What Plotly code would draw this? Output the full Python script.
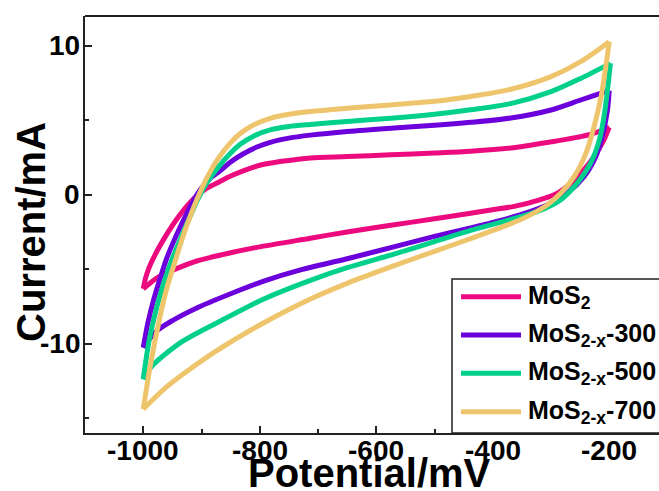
import plotly.graph_objects as go

# ---------------- data ----------------
SERIES_NAMES = ["MoS<sub>2</sub>", "MoS<sub>2-x</sub>-300",
                "MoS<sub>2-x</sub>-500", "MoS<sub>2-x</sub>-700"]
COLORS = ["#EC0A7E", "#6B00DC", "#00D08C", "#EEC56C"]

# each loop: start at -1000 mV, anodic sweep up to -200 mV, cathodic sweep back
MOS2_V = [-1000, -996, -990, -980, -965, -948, -930, -910, -890, -870,
          -850, -825, -800, -770, -740, -713, -650, -575, -500, -438, -369,
          -300, -249, -220, -200,
          -203, -209, -226, -254, -289, -318, -363, -403, -438, -500, -575,
          -650, -713, -800, -850, -908, -948, -975, -1000]
MOS2_I = [-6.32, -5.6, -4.9, -4.05, -3.0, -1.95, -1.0, -0.15, 0.45, 0.85,
          1.25, 1.65, 1.98, 2.2, 2.35, 2.46, 2.56, 2.68, 2.8, 2.92, 3.14,
          3.55, 3.9, 4.2, 4.53,
          4.25, 3.68, 2.57, 1.23, 0.11, -0.33, -0.78, -1.02, -1.25, -1.62, -2.05,
          -2.5, -2.92, -3.5, -3.9, -4.45, -5.05, -5.55, -6.32]

MOS2X300_V = [-1000, -992, -982, -970, -959, -936, -913, -900, -885, -868,
              -850, -828, -805, -782, -750, -713, -650, -575, -500, -438,
              -369, -300, -249, -215, -200,
              -203, -212, -223, -243, -272, -306, -352, -403, -438, -500,
              -575, -650, -730, -793, -850, -908, -950, -977, -1000]
MOS2X300_I = [-10.27, -8.6, -7.03, -5.5, -4.2, -2.12, -0.33, 0.45, 1.1, 1.6,
              2.2, 2.75, 3.2, 3.52, 3.8, 4.0, 4.25, 4.47, 4.66, 4.86,
              5.15, 5.69, 6.36, 6.8, 6.99,
              5.69, 3.9, 2.57, 1.23, 0.11, -0.67, -1.34, -1.9, -2.23, -2.8,
              -3.55, -4.3, -5.05, -5.8, -6.65, -7.6, -8.45, -9.15, -10.27]

MOS2X500_V = [-1000, -990, -977, -965, -950, -936, -920, -905, -890, -868,
              -850, -833, -810, -782, -750, -713, -650, -575, -500, -438,
              -369, -300, -249, -198,
              -203, -209, -217, -232, -255, -283, -323, -381, -438, -500,
              -575, -650, -713, -793, -879, -936, -985, -1000]
MOS2X500_I = [-12.39, -9.8, -7.6, -5.95, -4.3, -2.95, -1.5, -0.2, 0.85, 2.0,
              2.8, 3.4, 3.95, 4.35, 4.58, 4.72, 4.92, 5.13, 5.4, 5.7,
              6.12, 6.92, 7.81, 8.82,
              7.03, 5.24, 3.68, 2.12, 0.78, -0.33, -1.12, -1.79, -2.4, -3.15,
              -4.05, -4.9, -5.75, -7.0, -8.71, -9.93, -11.5, -12.39]

MOS2X700_V = [-1000, -988, -971, -959, -948, -930, -908, -890, -873, -850,
              -833, -810, -782, -750, -713, -650, -575, -500, -438, -369,
              -300, -249, -200,
              -206, -214, -226, -240, -260, -283, -306, -352, -403, -438,
              -500, -575, -650, -713, -800, -879, -936, -960, -982, -1000]
MOS2X700_I = [-14.4, -11.5, -8.15, -6.2, -4.8, -2.6, -0.33, 1.2, 2.34, 3.5,
              4.13, 4.7, 5.13, 5.4, 5.58, 5.8, 6.03, 6.27, 6.6, 7.08,
              7.93, 8.93, 10.27,
              8.6, 6.59, 4.58, 2.79, 1.23, 0.11, -0.67, -1.67, -2.45, -2.95,
              -3.8, -4.85, -5.95, -7.0, -8.75, -10.6, -12.17, -12.9, -13.7, -14.4]

X_TICKS = [-1000, -800, -600, -400, -200]
Y_TICKS = [-10, 0, 10]

LOOPS = [(MOS2_V, MOS2_I), (MOS2X300_V, MOS2X300_I),
         (MOS2X500_V, MOS2X500_I), (MOS2X700_V, MOS2X700_I)]

# ---------------- figure ----------------
FONT = "Arial, Liberation Sans, sans-serif"
W, H = 659, 491
ML, MR, MT, MB = 85, 0, 16, 58
PW, PH = W - ML - MR, H - MT - MB

def px_x(p):  # pixel x -> paper
    return (p - ML) / PW

def px_y(p):  # pixel y -> paper
    return (H - MB - p) / PH

fig = go.Figure()
for (v, i), name, col in zip(LOOPS, SERIES_NAMES, COLORS):
    k = v.index(max(v))
    for a, b in ((0, k + 1), (k, len(v))):
        fig.add_trace(go.Scatter(
            x=v[a:b], y=i[a:b], mode="lines", name=name, showlegend=False,
            line=dict(color=col, width=5, shape="spline", smoothing=0.8),
            hoverinfo="skip"))

axis_common = dict(
    showline=True, linecolor="#222", linewidth=2, ticks="inside",
    tickcolor="#222", tickwidth=2, ticklen=7, showgrid=False, zeroline=False,
    showticklabels=False,
)
fig.update_xaxes(range=[-1100, -1100 + PW / 0.5825], tickvals=X_TICKS,
                 minor=dict(dtick=100, tick0=-1100, ticks="inside", ticklen=4,
                            tickwidth=2, tickcolor="#222"),
                 **axis_common)
fig.update_yaxes(range=[-16, 12], tickvals=Y_TICKS,
                 minor=dict(dtick=5, tick0=0, ticks="inside", ticklen=4,
                            tickwidth=2, tickcolor="#222"),
                 **axis_common)

TICK_FONT = dict(family=FONT, size=28, color="black")
annotations = []
for t in X_TICKS:
    annotations.append(dict(text="<b>%d</b>" % t, xref="x", yref="paper",
                            x=t, y=px_y(450), xanchor="center",
                            yanchor="middle", showarrow=False, font=TICK_FONT))
for t in Y_TICKS:
    annotations.append(dict(text="<b>%d</b>" % t, xref="paper", yref="y",
                            x=px_x(82), y=t, xanchor="right",
                            yanchor="middle", showarrow=False, font=TICK_FONT))

shapes = [
    # top frame line
    dict(type="line", xref="paper", yref="paper", x0=0, x1=1.05, y0=1, y1=1,
         line=dict(color="#222", width=2)),
    # legend box
    dict(type="rect", xref="paper", yref="paper", x0=px_x(452), x1=1.05,
         y0=0, y1=px_y(279), line=dict(color="#222", width=1.5),
         fillcolor="white"),
]
annotations += [
    dict(text="<b>Potential/mV</b>", xref="paper", yref="paper",
         x=px_x(369), y=px_y(473), xanchor="center", yanchor="middle",
         showarrow=False, font=dict(family=FONT, size=40, color="black")),
    dict(text="<b>Current/mA</b>", xref="paper", yref="paper", textangle=-90,
         x=px_x(31), y=px_y(232), xanchor="center", yanchor="middle",
         showarrow=False, font=dict(family=FONT, size=40, color="black")),
]
LEG_Y = [296.7, 335, 373.3, 411.7]
for name, col, ly in zip(SERIES_NAMES, COLORS, LEG_Y):
    shapes.append(dict(type="line", xref="paper", yref="paper",
                       x0=px_x(461), x1=px_x(521), y0=px_y(ly), y1=px_y(ly),
                       line=dict(color=col, width=5)))
    annotations.append(dict(text="<b>" + name + "</b>", xref="paper",
                            yref="paper", x=px_x(526), y=px_y(ly),
                            xanchor="left", yanchor="middle", showarrow=False,
                            font=dict(family=FONT, size=25, color="black")))

fig.update_layout(
    width=W, height=H, margin=dict(l=ML, r=MR, t=MT, b=MB),
    paper_bgcolor="white", plot_bgcolor="white",
    shapes=shapes, annotations=annotations, showlegend=False,
)
fig.write_html("out.html")
